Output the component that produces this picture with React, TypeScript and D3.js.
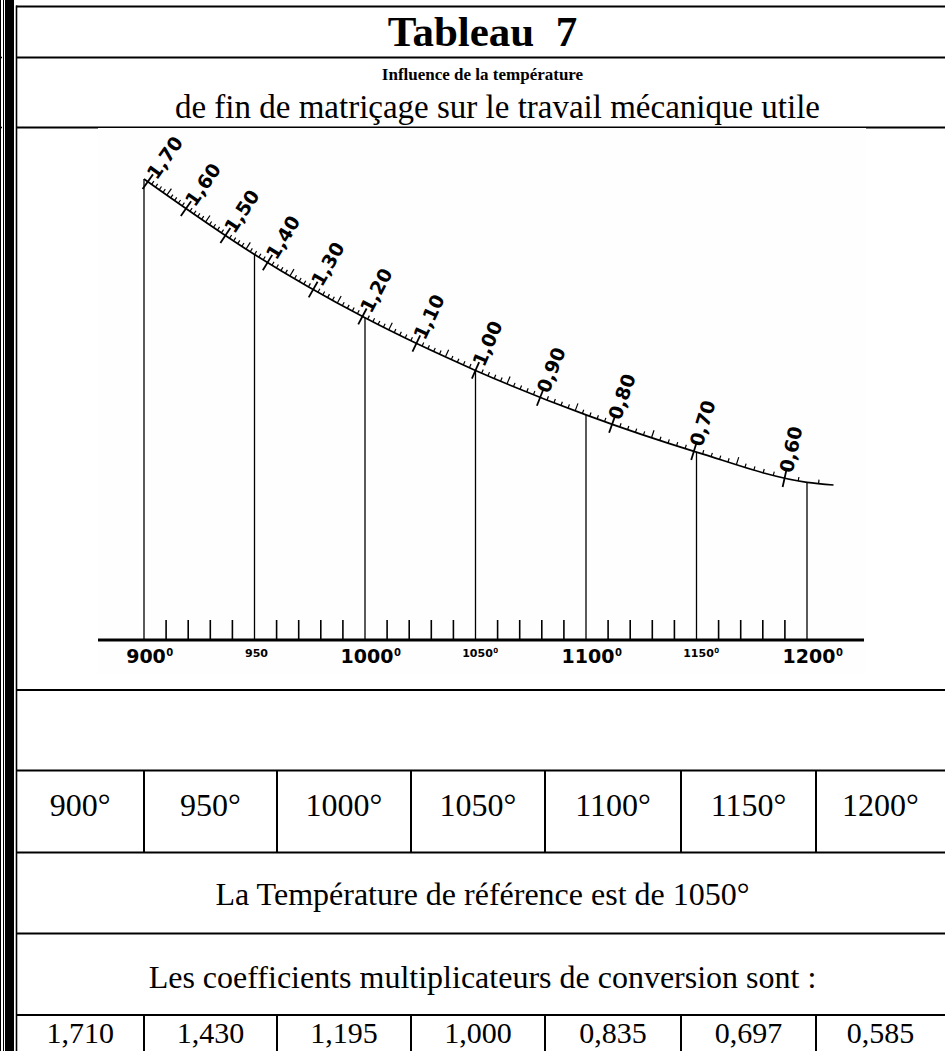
import React, { useEffect, useRef } from "react";
import * as d3 from "d3";

// ---------- data ----------
const temps = [900, 950, 1000, 1050, 1100, 1150, 1200];
const coefs = [1.71, 1.43, 1.195, 1.0, 0.835, 0.697, 0.585];
const tempLabels = ["900°", "950°", "1000°", "1050°", "1100°", "1150°", "1200°"];
const coefLabels = ["1,710", "1,430", "1,195", "1,000", "0,835", "0,697", "0,585"];
const curveTail = [{ t: 1212, c: 0.575 }];
const scaleValues = [1.7, 1.6, 1.5, 1.4, 1.3, 1.2, 1.1, 1.0, 0.9, 0.8, 0.7, 0.6];
const scaleLabels = ["1,70", "1,60", "1,50", "1,40", "1,30", "1,20", "1,10", "1,00", "0,90", "0,80", "0,70", "0,60"];
const minorScaleRange = [58, 170]; // hundredths
const axisLabels = ["900", "950", "1000", "1050", "1100", "1150", "1200"];
const axisLabelDegree = [true, false, true, true, true, true, true];
const axisMinorStep = 10;

const title = "Tableau  7";
const subtitleBold = "Influence de la température";
const subtitle = "de fin de matriçage sur le travail mécanique utile";
const refText = "La Température de référence est de 1050°";
const coefText = "Les coefficients multiplicateurs de conversion sont :";

const W = 945;
const H = 1051;
const SERIF = "'Times New Roman', 'Liberation Serif', serif";
const SANS = "'DejaVu Sans', 'Liberation Sans', sans-serif";

export default function App() {
  const ref = useRef<SVGSVGElement | null>(null);

  useEffect(() => {
    const svg = d3.select(ref.current);
    svg.selectAll("*").remove();

    svg.append("rect").attr("width", W).attr("height", H).attr("fill", "#fff");

    // ----- left double border -----
    const lb = svg.append("g").attr("stroke", "#000");
    lb.append("line").attr("x1", 0.5).attr("x2", 0.5).attr("y1", 0).attr("y2", H).attr("stroke-width", 1);
    lb.append("line").attr("x1", 3.5).attr("x2", 3.5).attr("y1", 0).attr("y2", H).attr("stroke-width", 1);
    svg.append("rect").attr("x", 5).attr("y", 0).attr("width", 9).attr("height", H).attr("fill", "#000");
    lb.append("line").attr("x1", 16.5).attr("x2", 16.5).attr("y1", 5.5).attr("y2", H).attr("stroke-width", 1.6);
    [57.5, 127.5].forEach((yy) =>
      lb.append("line").attr("x1", 0).attr("x2", 2).attr("y1", yy).attr("y2", yy).attr("stroke-width", 1.5)
    );

    // ----- table grid -----
    const tl = 16;
    const rowLines = [6.5, 57.5, 127.5, 690, 770.5, 852.5, 933.5, 1015];
    const colEdges = [16.5, 144, 277, 411, 545, 681, 816, 945];
    const grid = svg.append("g").attr("stroke", "#000").attr("stroke-width", 2);
    rowLines.forEach((yy) =>
      grid.append("line").attr("x1", tl).attr("x2", W).attr("y1", yy).attr("y2", yy)
    );
    colEdges.slice(1, -1).forEach((cx) => {
      grid.append("line").attr("x1", cx).attr("x2", cx).attr("y1", 770.5).attr("y2", 852.5);
      grid.append("line").attr("x1", cx).attr("x2", cx).attr("y1", 1015).attr("y2", H);
    });

    // ----- header texts -----
    const cx = (tl + W) / 2 + 2;
    svg.append("text").attr("x", cx).attr("y", 46).attr("text-anchor", "middle")
      .attr("font-family", SERIF).attr("font-weight", "bold").attr("font-size", 43)
      .style("white-space", "pre").text(title);
    svg.append("text").attr("x", cx).attr("y", 80).attr("text-anchor", "middle")
      .attr("font-family", SERIF).attr("font-weight", "bold").attr("font-size", 17).text(subtitleBold);
    svg.append("text").attr("x", cx + 15).attr("y", 118).attr("text-anchor", "middle")
      .attr("font-family", SERIF).attr("font-size", 33).text(subtitle);

    // ----- graph image -----
    svg.append("rect").attr("x", 98).attr("y", 128).attr("width", 768).attr("height", 546).attr("fill", "#fefefe");

    const x = d3.scaleLinear().domain([900, 1200]).range([144, 807]);
    const y = d3.scaleLinear().domain([0, 1.71]).range([640, 179]);
    const g = svg.append("g");

    // axis
    g.append("line").attr("x1", 98).attr("x2", 864).attr("y1", y(0)).attr("y2", y(0))
      .attr("stroke", "#000").attr("stroke-width", 3);
    const minorTemps = d3.range(temps[0] + axisMinorStep, temps[temps.length - 1], axisMinorStep)
      .filter((t) => t % 50 !== 0);
    g.selectAll(".amt").data(minorTemps).join("line")
      .attr("x1", (t) => x(t)).attr("x2", (t) => x(t))
      .attr("y1", y(0)).attr("y2", y(0) - 20)
      .attr("stroke", "#000").attr("stroke-width", 1.6);

    // verticals
    g.selectAll(".vert").data(temps).join("line")
      .attr("x1", (t) => x(t)).attr("x2", (t) => x(t))
      .attr("y1", (t, i) => y(coefs[i])).attr("y2", y(0))
      .attr("stroke", "#000").attr("stroke-width", 1.3);

    // axis labels
    temps.forEach((t, i) => {
      const big = t % 100 === 0;
      const fs = big ? 19 : 11;
      const base = big ? 663 : 657;
      const lbl = axisLabels[i];
      const w = lbl.length * 0.696 * fs;
      g.append("text").attr("x", x(t) + 2).attr("y", base).attr("text-anchor", "middle")
        .attr("font-family", SANS).attr("font-weight", "bold").attr("font-size", fs).text(lbl);
      if (axisLabelDegree[i]) {
        g.append("text").attr("x", x(t) + 2 + w / 2 + 0.5).attr("y", base - (big ? 7 : 4))
          .attr("font-family", SANS).attr("font-weight", "bold").attr("font-size", big ? 10 : 7).text("0");
      }
    });

    // curve
    const pts: [number, number][] = temps.map((t, i) => [x(t), y(coefs[i])] as [number, number])
      .concat(curveTail.map((d) => [x(d.t), y(d.c)] as [number, number]));
    const line = d3.line().curve(d3.curveMonotoneX);
    const path = g.append("path").attr("d", line(pts) as string).attr("fill", "none")
      .attr("stroke", "#000").attr("stroke-width", 1.7);
    const node = path.node() as SVGPathElement;
    const L = node.getTotalLength();
    const atY = (yy: number) => {
      let lo = 0, hi = L;
      for (let k = 0; k < 40; k++) {
        const mid = (lo + hi) / 2;
        if (node.getPointAtLength(mid).y < yy) lo = mid; else hi = mid;
      }
      const l = (lo + hi) / 2;
      const p = node.getPointAtLength(l);
      const a = node.getPointAtLength(Math.max(0, l - 3));
      const b = node.getPointAtLength(Math.min(L, l + 3));
      const ang = Math.atan2(b.y - a.y, b.x - a.x);
      return { p, n: { x: Math.sin(ang), y: -Math.cos(ang) } };
    };

    // minor ticks on the curve
    d3.range(minorScaleRange[0], minorScaleRange[1] + 1)
      .filter((k) => k % 10 !== 0)
      .forEach((k) => {
        const yy = y(k / 100);
        if (yy > pts[pts.length - 1][1] || yy < pts[0][1]) return;
        const { p, n } = atY(yy);
        const len = k % 5 === 0 ? 8 : 4;
        g.append("line").attr("x1", p.x).attr("y1", p.y)
          .attr("x2", p.x + n.x * len).attr("y2", p.y + n.y * len)
          .attr("stroke", "#000").attr("stroke-width", 1.2);
      });

    // major ticks + labels
    scaleValues.forEach((v, i) => {
      const { p, n } = atY(y(v));
      g.append("line").attr("x1", p.x - n.x * 9).attr("y1", p.y - n.y * 9)
        .attr("x2", p.x + n.x * 9).attr("y2", p.y + n.y * 9)
        .attr("stroke", "#000").attr("stroke-width", 1.8);
      const deg = (Math.atan2(n.y, n.x) * 180) / Math.PI;
      g.append("text")
        .attr("transform", `translate(${p.x + n.x * 6},${p.y + n.y * 6}) rotate(${deg})`)
        .attr("dy", "0.36em")
        .attr("font-family", SANS).attr("font-weight", "bold").attr("font-size", 19)
        .text(scaleLabels[i]);
    });

    // ----- table rows -----
    const centers = colEdges.slice(0, -1).map((e, i) => (e + colEdges[i + 1]) / 2);
    svg.selectAll(".tl").data(tempLabels).join("text")
      .attr("x", (d, i) => centers[i]).attr("y", 816).attr("text-anchor", "middle")
      .attr("font-family", SERIF).attr("font-size", 32).text((d) => d);
    svg.append("text").attr("x", cx).attr("y", 905).attr("text-anchor", "middle")
      .attr("font-family", SERIF).attr("font-size", 32).text(refText);
    svg.append("text").attr("x", cx).attr("y", 988).attr("text-anchor", "middle")
      .attr("font-family", SERIF).attr("font-size", 32).text(coefText);
    svg.selectAll(".cl").data(coefLabels).join("text")
      .attr("x", (d, i) => centers[i]).attr("y", 1043).attr("text-anchor", "middle")
      .attr("font-family", SERIF).attr("font-size", 30).text((d) => d);
  }, []);

  return (
    <svg
      ref={ref}
      width={W}
      height={H}
      style={{ position: "absolute", left: 0, top: 0, display: "block" }}
    />
  );
}
